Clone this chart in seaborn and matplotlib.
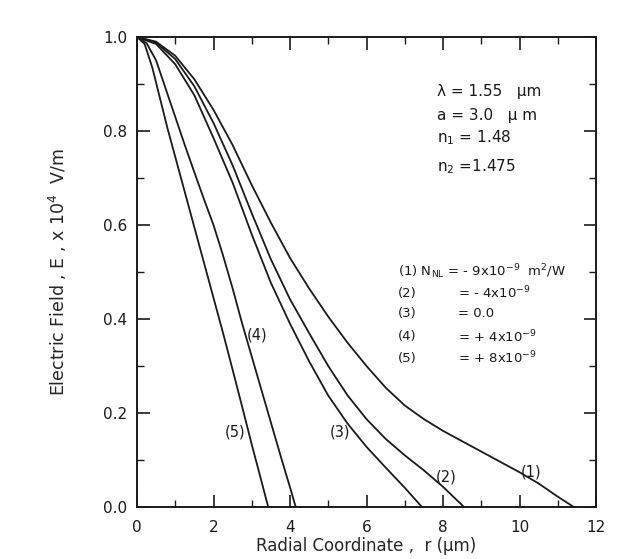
import numpy as np
import pandas as pd
import matplotlib
matplotlib.use("Agg")
import matplotlib.pyplot as plt
from matplotlib.ticker import MultipleLocator
import seaborn as sns

# ---- data (r in um, E normalised) ----
r1 = [0, 0.5, 1.0, 1.5, 2.0, 2.5, 3.0, 3.5, 4.0, 4.5, 5.0, 5.5, 6.0, 6.5, 7.0, 7.5,
      8.0, 8.5, 9.0, 9.5, 10.0, 10.5, 11.0, 11.42]
e1 = [1.0, 0.99, 0.96, 0.91, 0.845, 0.77, 0.685, 0.605, 0.53, 0.465, 0.405, 0.35,
      0.30, 0.254, 0.216, 0.187, 0.162, 0.14, 0.118, 0.096, 0.074, 0.05, 0.022, 0.0]

r2 = [0, 0.5, 1.0, 1.5, 2.0, 2.5, 3.0, 3.5, 4.0, 4.5, 5.0, 5.5, 6.0, 6.5, 7.0, 7.5, 8.0, 8.55]
e2 = [1.0, 0.988, 0.953, 0.895, 0.817, 0.727, 0.625, 0.527, 0.442, 0.37, 0.30, 0.238,
      0.187, 0.145, 0.11, 0.078, 0.043, 0.0]

r3 = [0, 0.5, 1.0, 1.5, 2.0, 2.5, 3.0, 3.5, 4.0, 4.5, 5.0, 5.5, 6.0, 6.5, 7.0, 7.45]
e3 = [1.0, 0.985, 0.942, 0.876, 0.785, 0.69, 0.58, 0.477, 0.39, 0.31, 0.237, 0.178,
      0.128, 0.084, 0.041, 0.0]

r4 = [0, 0.25, 0.5, 0.75, 1.0, 1.25, 1.5, 1.75, 2.0, 2.25, 2.5, 2.75, 3.0, 3.25, 3.5,
      3.75, 4.0, 4.15]
e4 = [1.0, 0.987, 0.95, 0.89, 0.83, 0.77, 0.712, 0.655, 0.60, 0.535, 0.465, 0.39,
      0.32, 0.25, 0.18, 0.11, 0.042, 0.0]

r5 = [0, 0.2, 0.4, 0.6, 0.8, 1.0, 1.25, 1.5, 1.75, 2.0, 2.25, 2.5, 2.75, 3.0, 3.25, 3.43]
e5 = [1.0, 0.985, 0.935, 0.87, 0.805, 0.745, 0.67, 0.595, 0.52, 0.445, 0.37, 0.292,
      0.213, 0.133, 0.056, 0.0]

curve_ids = ["(1)", "(2)", "(3)", "(4)", "(5)"]
x_ticks = [0, 2, 4, 6, 8, 10, 12]
y_ticks = [0.0, 0.2, 0.4, 0.6, 0.8, 1.0]

params_text = ["λ = 1.55   μm", "a = 3.0   μ m", "n$_1$ = 1.48", "n$_2$ =1.475"]
legend_ids = ["(1) N$_{NL}$ = - 9x10$^{-9}$  m$^2$/W", "(2)", "(3)", "(4)", "(5)"]
legend_vals = ["", "= - 4x10$^{-9}$", "= 0.0", "= + 4x10$^{-9}$", "= + 8x10$^{-9}$"]

frames = []
for cid, rr, ee in zip(curve_ids, [r1, r2, r3, r4, r5], [e1, e2, e3, e4, e5]):
    frames.append(pd.DataFrame({"r": rr, "E": ee, "curve": cid}))
df = pd.concat(frames, ignore_index=True)

sns.set_theme(style="ticks")
plt.rcParams["font.family"] = ["DejaVu Sans"]
plt.rcParams["mathtext.default"] = "regular"

ink = "#1a1a1a"
fig = plt.figure(figsize=(6.35, 5.59), dpi=100)
ax = fig.add_axes([137 / 635, 1 - 507 / 559, (596 - 137) / 635, (507 - 37) / 559])

sns.lineplot(data=df, x="r", y="E", units="curve", estimator=None, sort=False,
             color=ink, linewidth=1.3, ax=ax, legend=False)

ax.set_xlim(0, 12)
ax.set_ylim(0, 1.0)
ax.set_xticks(x_ticks)
ax.set_xticklabels([str(t) for t in x_ticks])
ax.set_yticks(y_ticks)
ax.set_yticklabels([f"{t:.1f}" for t in y_ticks])
ax.xaxis.set_minor_locator(MultipleLocator(1))
ax.yaxis.set_minor_locator(MultipleLocator(0.1))
ax.tick_params(which="both", direction="in", top=True, right=True, colors=ink)
ax.tick_params(which="major", length=9, width=1.2, labelsize=11)
ax.tick_params(axis="y", which="major", pad=7)
ax.tick_params(axis="x", which="major", pad=9)
ax.tick_params(which="minor", length=5, width=1.0)
for s in ax.spines.values():
    s.set_linewidth(1.4)
    s.set_color(ink)

ax.set_xlabel("Radial Coordinate ,  r (μm)", fontsize=12)
ax.xaxis.set_label_coords(0.5, -0.064)
ax.xaxis.label.set_va("top")
ax.set_ylabel("Electric Field , E , x 10$^{4}$  V/m", fontsize=12.5)
ax.yaxis.set_label_coords(-0.148, 0.5)

# parameter block
py = [0.884, 0.834, 0.785, 0.724]
for t, yv in zip(params_text, py):
    ax.text(7.84, yv, t, fontsize=11, ha="left", va="center", color=ink)

# legend block
ly = [0.501, 0.455, 0.412, 0.362, 0.316]
for lid, lv, yv in zip(legend_ids, legend_vals, ly):
    ax.text(6.82, yv, lid, fontsize=9.5, ha="left", va="center", color=ink)
    if lv:
        ax.text(8.39, yv, lv, fontsize=9.5, ha="left", va="center", color=ink)

# curve labels
lab_pos = {"(1)": (10.3, 0.074), "(2)": (8.08, 0.064), "(3)": (5.31, 0.16),
           "(4)": (3.14, 0.366), "(5)": (2.56, 0.16)}
for cid in curve_ids:
    x, y = lab_pos[cid]
    ax.text(x, y, cid, fontsize=10.5, ha="center", va="center", color=ink)

fig.savefig("out.png", dpi=100)
